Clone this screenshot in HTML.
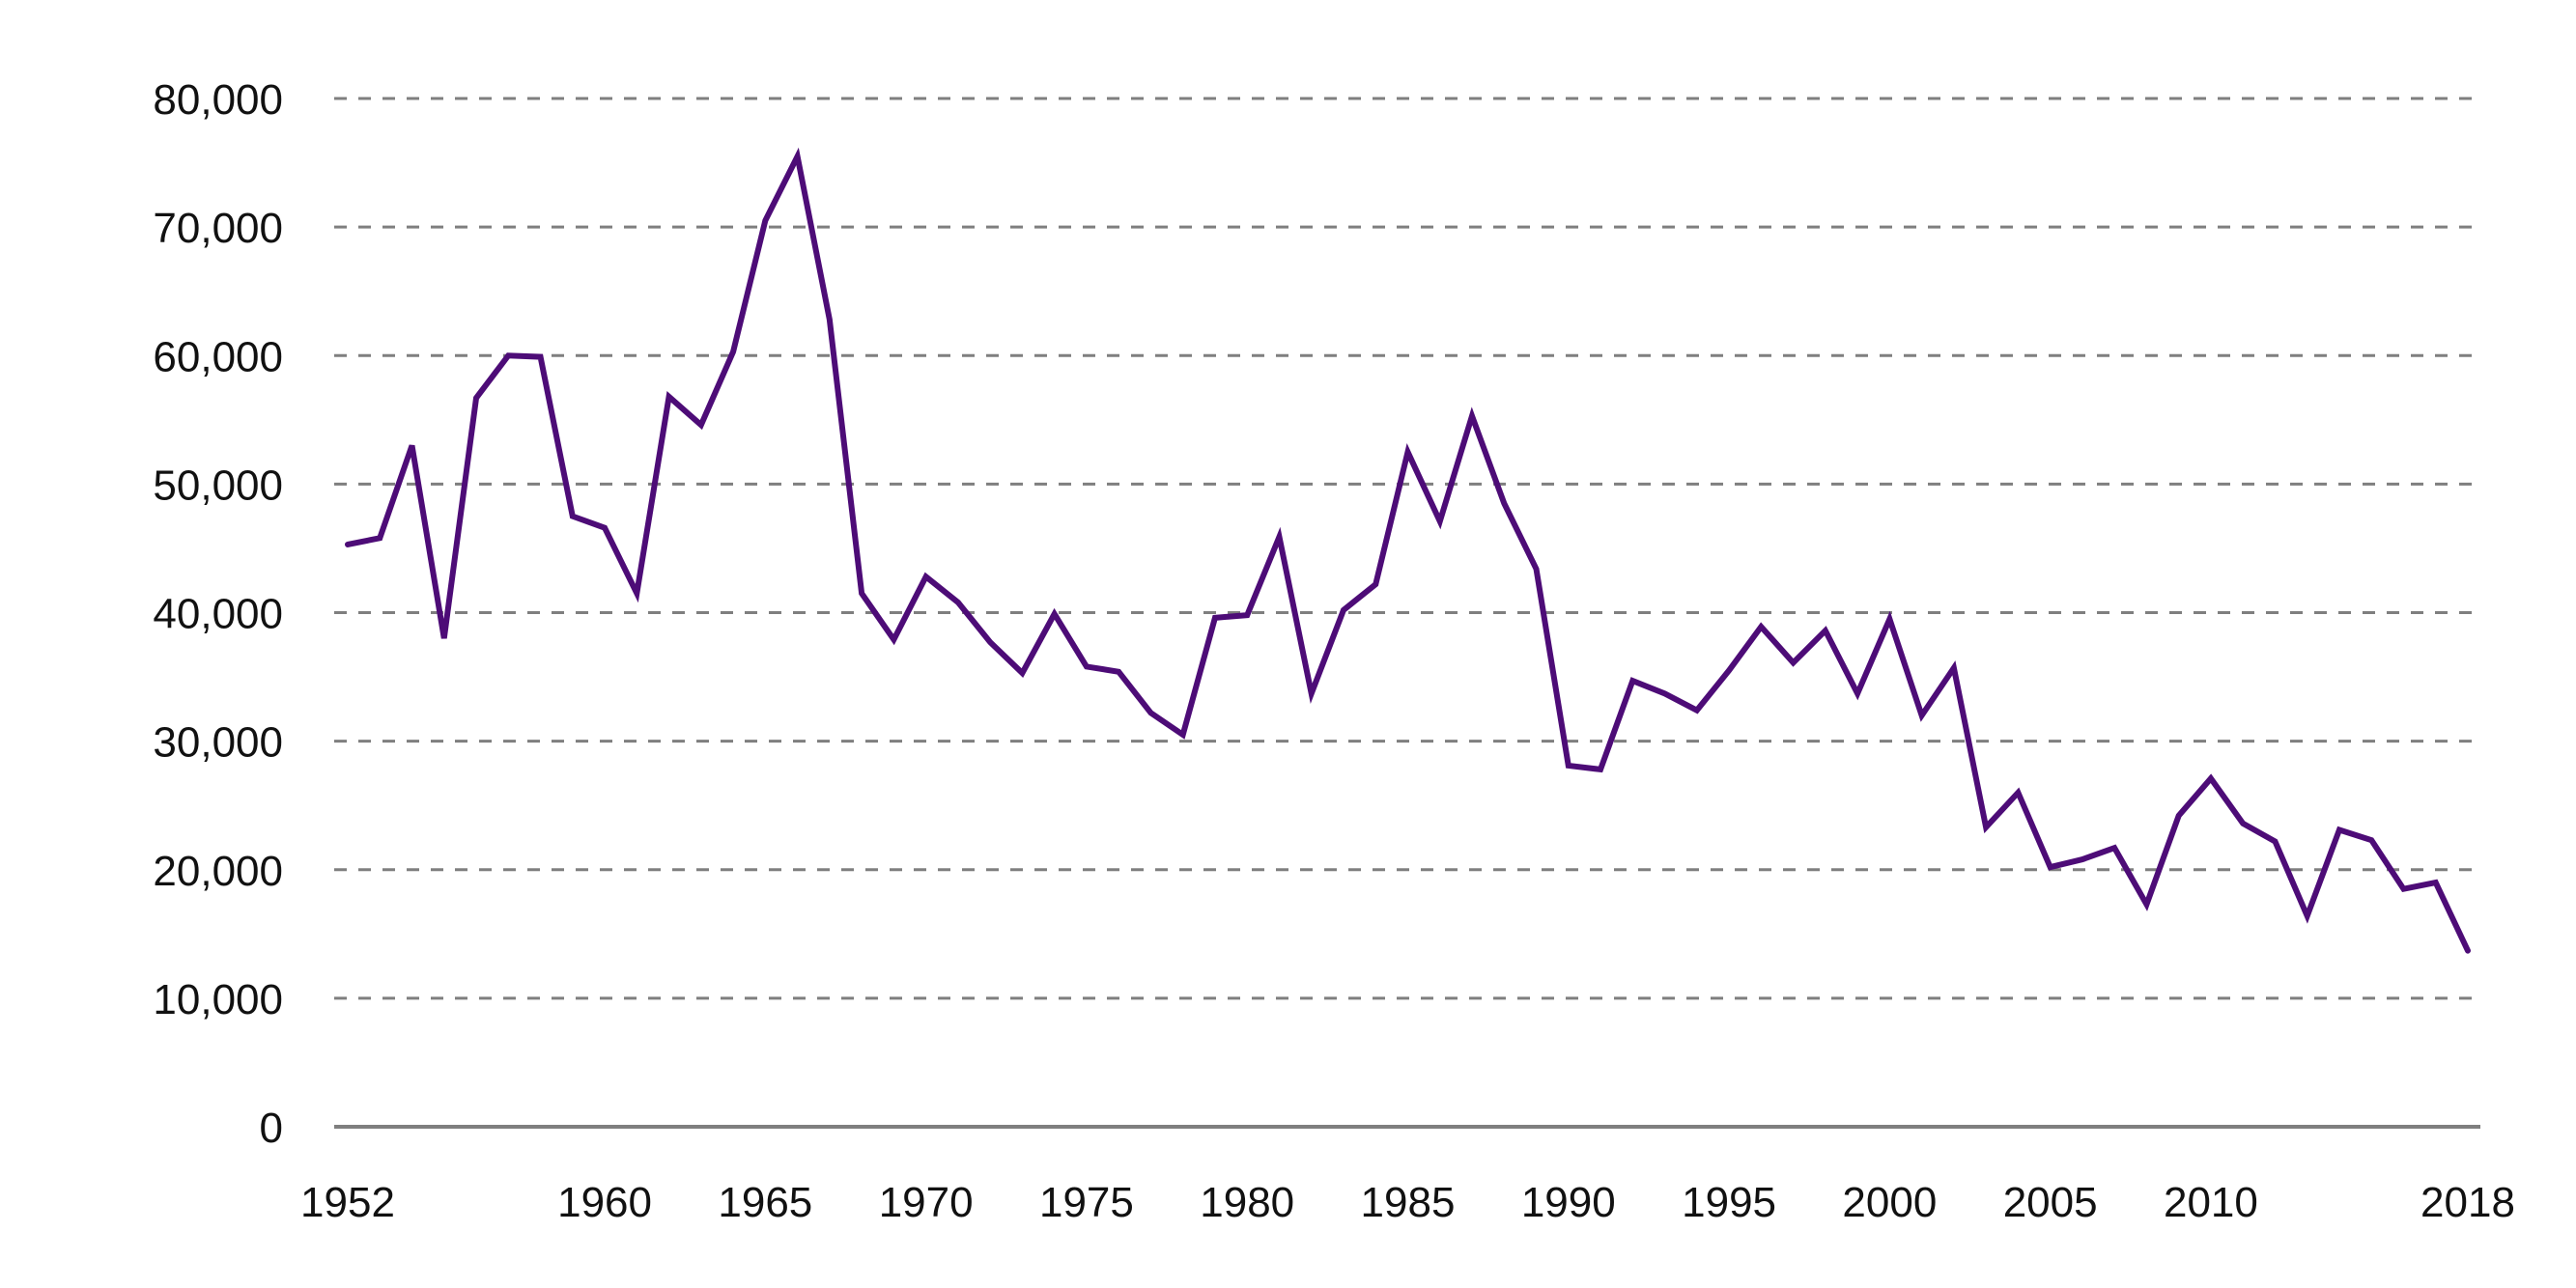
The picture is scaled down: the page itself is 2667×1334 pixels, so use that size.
<!DOCTYPE html>
<html><head><meta charset="utf-8"><style>
html,body{margin:0;padding:0;background:#fff}
svg{display:block}
text{font-family:"Liberation Sans",sans-serif;fill:#111}
</style></head><body>
<svg id="chart" width="2667" height="1334" viewBox="0 0 2667 1334" xmlns="http://www.w3.org/2000/svg">
<g id="grid"></g>
<g id="ylab"></g>
<g id="xlab"></g>
<g id="series"></g>
</svg>
<script>
const years = [1952,1953,1954,1955,1956,1957,1958,1959,1960,1961,1962,1963,1964,1965,1966,1967,1968,1969,1970,1971,1972,1973,1974,1975,1976,1977,1978,1979,1980,1981,1982,1983,1984,1985,1986,1987,1988,1989,1990,1991,1992,1993,1994,1995,1996,1997,1998,1999,2000,2001,2002,2003,2004,2005,2006,2007,2008,2009,2010,2011,2012,2013,2014,2015,2016,2017,2018];
const values = [45300,45800,53000,38000,56700,60000,59900,47500,46600,41500,56800,54600,60300,70500,75500,62800,41500,37900,42800,40800,37700,35300,39900,35800,35400,32200,30500,39600,39800,45900,33700,40200,42200,52500,47100,55300,48500,43400,28100,27800,34700,33700,32400,35500,38900,36100,38600,33700,39500,32000,35700,23300,26000,20200,20800,21700,17300,24200,27100,23600,22200,16400,23100,22300,18500,19000,13700];
const yTicks = [0,10000,20000,30000,40000,50000,60000,70000,80000];
const xTickYears = [1952,1960,1965,1970,1975,1980,1985,1990,1995,2000,2005,2010,2018];

const NS="http://www.w3.org/2000/svg";
const X0=360,X1=2555,Y0=1167,Y1=102,GL=346,GR=2568;
const x = yr => X0 + (yr-1952)*(X1-X0)/(2018-1952);
const y = v => Y0 - v*(Y0-Y1)/80000;
function mk(tag,attrs,parent){const e=document.createElementNS(NS,tag);for(const k in attrs)e.setAttribute(k,attrs[k]);parent.appendChild(e);return e;}
const grid=document.getElementById('grid'),ylab=document.getElementById('ylab'),xlab=document.getElementById('xlab'),series=document.getElementById('series');
yTicks.forEach(t=>{
  const l=mk('line',{x1:GL,x2:GR,y1:y(t),y2:y(t),stroke:'#7f7f7f','stroke-width':t===0?4:3,'stroke-dasharray':t===0?'none':'13 12'},grid);
  
  
  const tx=mk('text',{x:293,y:y(t)+16,'text-anchor':'end','font-size':44},ylab);
  tx.textContent=t.toLocaleString('en-US');
  
  
});
xTickYears.forEach(yr=>{
  const tx=mk('text',{x:x(yr),y:1260,'text-anchor':'middle','font-size':44},xlab);
  tx.textContent=yr;
  
  
});
const p=mk('polyline',{points:years.map((yr,i)=>x(yr)+','+y(values[i])).join(' '),fill:'none',stroke:'#4d0c77','stroke-width':6,'stroke-linejoin':'miter','stroke-linecap':'round'},series);


</script>
</body></html>
